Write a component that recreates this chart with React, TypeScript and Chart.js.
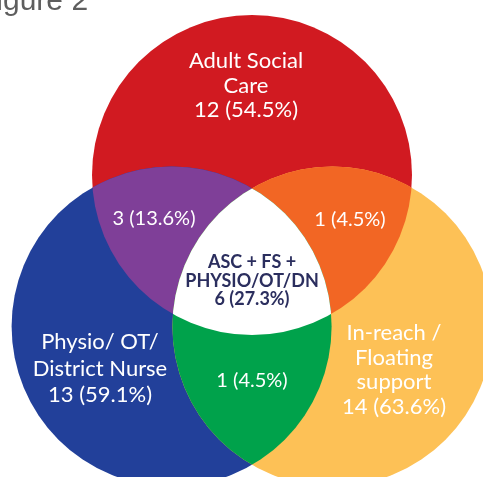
import React, { useEffect, useRef } from "react";
import { Chart, registerables } from "chart.js";

Chart.register(...registerables);

// ---- data ----
const setNames = ["Adult Social Care", "Physio/ OT/ District Nurse", "In-reach / Floating support"];
const setLabelLines = [
  ["Adult Social", "Care"],
  ["Physio/ OT/", "District Nurse"],
  ["In-reach /", "Floating", "support"],
];
const setCounts = [12, 13, 14];
const setPercents = [54.5, 59.1, 63.6];

// overlaps: indices into the sets above
const overlapSets = [
  [0, 1],
  [0, 2],
  [1, 2],
  [0, 1, 2],
];
const overlapCounts = [3, 1, 1, 6];
const overlapPercents = [13.6, 4.5, 4.5, 27.3];
const centreLabelLines = ["ASC + FS +", "PHYSIO/OT/DN"];
const titleText = "Figure 2";

// ---- layout (axis units) ----
const circleCentres = [
  { x: 252, y: 175 },
  { x: 171.6, y: 326.5 },
  { x: 332.4, y: 326.5 },
];
const circleRadius = 160;
const setLabelAnchors = [
  { x: 246, y: 68, gap: 24.5 },
  { x: 100, y: 349, gap: 26.5 },
  { x: 394, y: 340, gap: 24.5 },
];
const overlapLabelAnchors = [
  { x: 154, y: 225 },
  { x: 350, y: 226 },
  { x: 252, y: 387 },
  { x: 252, y: 268 },
];

const setColours = ["#D11A21", "#22409A", "#FDC156"];
const overlapColours = ["#7F3F98", "#F26624", "#00A24B", "#FFFFFF"];
const FONT = "Lato, 'Noto Sans', sans-serif";

const vennPlugin = {
  id: "venn",
  beforeDatasetsDraw(chart: any) {
    const ctx = chart.ctx;
    const xs = chart.scales.x;
    const ys = chart.scales.y;
    const meta = chart.getDatasetMeta(0);
    const pts = meta.data.map((el: any) => ({ x: el.x, y: el.y }));
    const r = xs.getPixelForValue(circleRadius) - xs.getPixelForValue(0);
    const circle = (i: number) => {
      const p = new Path2D();
      p.arc(pts[i].x, pts[i].y, r, 0, Math.PI * 2);
      return p;
    };
    ctx.save();
    setColours.forEach((c, i) => {
      ctx.fillStyle = c;
      ctx.fill(circle(i));
    });
    overlapSets.forEach((sets, k) => {
      ctx.save();
      sets.forEach((i) => ctx.clip(circle(i)));
      ctx.fillStyle = overlapColours[k];
      ctx.fillRect(0, 0, chart.width, chart.height);
      ctx.restore();
    });
    ctx.restore();

    // labels
    ctx.save();
    ctx.textAlign = "center";
    ctx.textBaseline = "alphabetic";
    ctx.fillStyle = "#FFFFFF";
    ctx.font = `400 22px ${FONT}`;
    setLabelLines.forEach((lines, i) => {
      const a = setLabelAnchors[i];
      const all = [...lines, `${setCounts[i]} (${setPercents[i]}%)`];
      all.forEach((t, j) => {
        ctx.fillText(t, xs.getPixelForValue(a.x), ys.getPixelForValue(a.y + j * a.gap));
      });
    });
    ctx.font = `400 20px ${FONT}`;
    for (let k = 0; k < 3; k++) {
      const a = overlapLabelAnchors[k];
      ctx.fillText(
        `${overlapCounts[k]} (${overlapPercents[k]}%)`,
        xs.getPixelForValue(a.x),
        ys.getPixelForValue(a.y)
      );
    }
    ctx.fillStyle = "#2B2E5E";
    ctx.font = `700 18px ${FONT}`;
    const ca = overlapLabelAnchors[3];
    const cl = [...centreLabelLines, `${overlapCounts[3]} (${overlapPercents[3]}%)`];
    cl.forEach((t, j) => {
      ctx.fillText(t, xs.getPixelForValue(ca.x), ys.getPixelForValue(ca.y + j * 18.5));
    });

    // title (partly cropped, as in the reference)
    ctx.fillStyle = "#5E5E5E";
    ctx.textAlign = "left";
    ctx.font = `400 30px 'Liberation Sans', Arial, sans-serif`;
    const off = ctx.measureText("Fi").width;
    ctx.fillText(titleText, 3 - off, 10);
    ctx.restore();
  },
};

export default function App() {
  const ref = useRef<HTMLCanvasElement | null>(null);
  useEffect(() => {
    if (!ref.current) return;
    const chart = new Chart(ref.current, {
      type: "scatter",
      data: {
        labels: setNames,
        datasets: [
          {
            label: "Sets",
            data: circleCentres.map((c) => ({ x: c.x, y: c.y })),
            pointRadius: 0,
            pointHoverRadius: 0,
          },
        ],
      },
      options: {
        animation: false,
        responsive: true,
        maintainAspectRatio: false,
        layout: { padding: 0 },
        events: [],
        plugins: { legend: { display: false }, tooltip: { enabled: false }, title: { display: false } },
        scales: {
          x: { type: "linear", min: 0, max: 483, display: false },
          y: { type: "linear", min: 0, max: 477, reverse: true, display: false },
        },
      },
      plugins: [vennPlugin],
    });
    return () => chart.destroy();
  }, []);
  return (
    <div style={{ position: "absolute", left: 0, top: 0, width: 483, height: 477, background: "#fff" }}>
      <canvas ref={ref} />
    </div>
  );
}
